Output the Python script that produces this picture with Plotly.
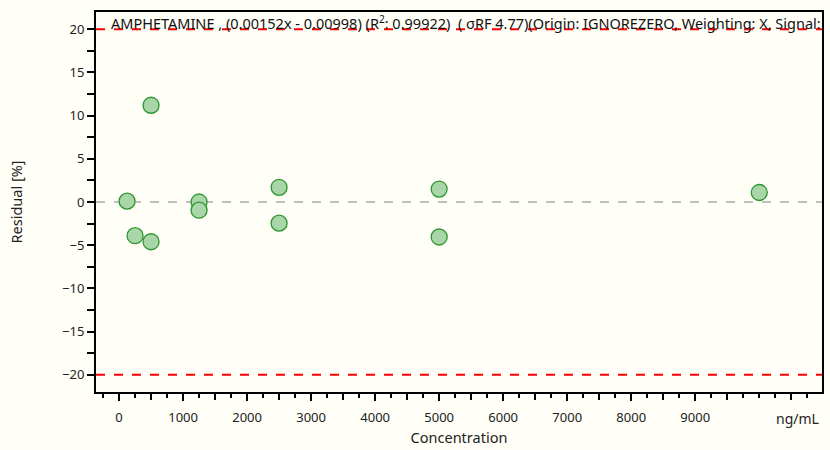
import plotly.graph_objects as go

# Data
conc = [125, 250, 500, 500, 1250, 1250, 2500, 2500, 5000, 5000, 10000]
residual = [0.1, -3.9, 11.2, -4.6, 0.0, -0.95, 1.7, -2.45, 1.5, -4.05, 1.1]
x_tick_vals = [0, 1000, 2000, 3000, 4000, 5000, 6000, 7000, 8000, 9000]
x_tick_labels = ["0", "1000", "2000", "3000", "4000", "5000", "6000", "7000", "8000", "9000"]
y_ticks = [-20, -15, -10, -5, 0, 5, 10, 15, 20]
limits = [20, -20]
title_text = "AMPHETAMINE , (0.00152x - 0.00998) (R<sup>2</sup>: 0.99922)  ( σRF 4.77)(Origin: IGNOREZERO, Weighting: X, Signal:"

BG = "#FFFFF7"
FONT = "Noto Sans"

x_min, x_max = -360, 10980
y_min, y_max = -22, 22

fig = go.Figure()

# zero line
fig.add_trace(go.Scatter(x=[x_min, x_max], y=[0, 0], mode="lines",
                         line=dict(color="#C0C0C0", width=2, dash="dash"),
                         hoverinfo="skip", showlegend=False))
# limit lines
for lim in limits:
    fig.add_trace(go.Scatter(x=[x_min, x_max], y=[lim, lim], mode="lines",
                             line=dict(color="#FF0000", width=2, dash="dash"),
                             hoverinfo="skip", showlegend=False))

fig.add_trace(go.Scatter(x=conc, y=residual, mode="markers",
                         marker=dict(size=16, color="#A9D6A9",
                                     line=dict(color="#2E962E", width=1.3)),
                         showlegend=False))

half_ticks = [v for v in range(-500, 11001, 500) if v % 1000 != 0]

fig.update_layout(
    width=830, height=450,
    margin=dict(l=96, r=8, t=12, b=58),
    paper_bgcolor=BG, plot_bgcolor=BG,
    font=dict(family=FONT, size=13, color="#222222"),
    xaxis=dict(range=[x_min, x_max], showgrid=False, zeroline=False,
               showline=True, linecolor="black", linewidth=2, mirror=True,
               automargin=False,
               tickmode="array", tickvals=x_tick_vals, ticktext=x_tick_labels,
               ticks="outside", ticklen=7, tickwidth=1.5, tickcolor="black",
               ticklabelstandoff=5,
               minor=dict(dtick=250, tick0=0, ticks="outside", ticklen=4,
                          tickwidth=1.5, tickcolor="black", showgrid=False),
               tickfont=dict(size=13),
               title=dict(text="Concentration", font=dict(size=14.5), standoff=8)),
    xaxis2=dict(range=[x_min, x_max], overlaying="x", anchor="y", side="bottom",
                showgrid=False, zeroline=False, showline=False, automargin=False,
                tickmode="array", tickvals=half_ticks, showticklabels=False,
                ticks="outside", ticklen=7, tickwidth=1.5, tickcolor="black"),
    yaxis=dict(range=[y_min, y_max], showgrid=False, zeroline=False,
               showline=True, linecolor="black", linewidth=2, mirror=True,
               automargin=False,
               tickmode="array", tickvals=y_ticks,
               ticks="outside", ticklen=7, tickwidth=1.5, tickcolor="black",
               minor=dict(dtick=2.5, tick0=0, ticks="outside", ticklen=7,
                          tickwidth=1.5, tickcolor="black", showgrid=False),
               tickfont=dict(size=13),
               title=dict(text="Residual [%]", font=dict(size=14.5), standoff=36)),
    annotations=[
        dict(text=title_text, xref="x", yref="y", x=-150, y=20,
             xanchor="left", yanchor="bottom", showarrow=False, yshift=-6,
             font=dict(size=14.5, color="#111111", family=FONT)),
        dict(text="ng/mL", xref="x", yref="paper", x=10600, y=0,
             xanchor="center", yanchor="top", yshift=-15, showarrow=False,
             font=dict(size=14, color="#222222")),
    ],
)

# dummy trace to activate xaxis2 for the half ticks
fig.add_trace(go.Scatter(x=[x_min], y=[y_min], xaxis="x2", yaxis="y", mode="markers",
                         marker=dict(size=0, opacity=0), hoverinfo="skip",
                         showlegend=False))

fig.write_html("out.html")
